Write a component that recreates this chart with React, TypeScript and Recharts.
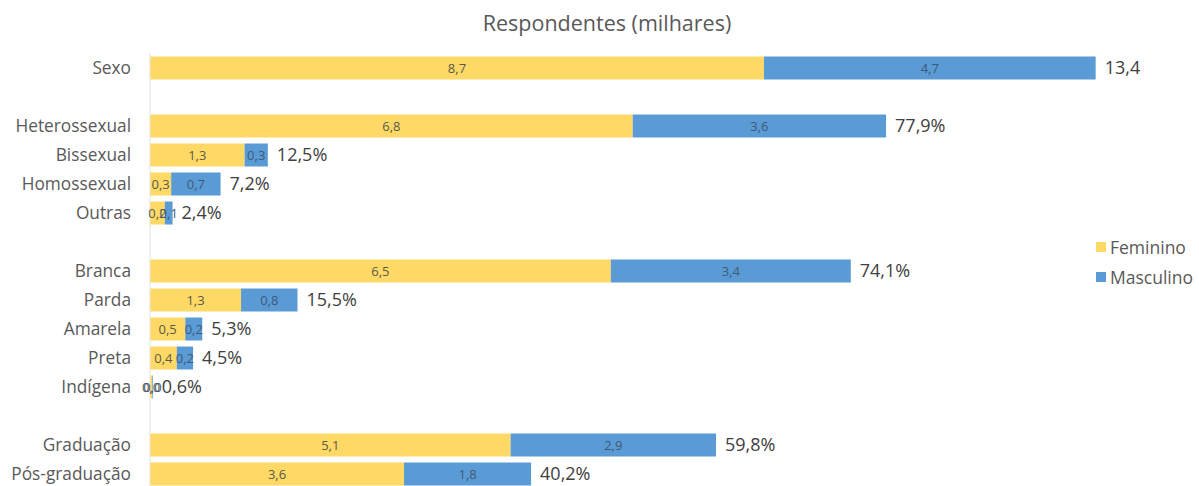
import React from 'react';
import { BarChart, Bar, XAxis, YAxis, Legend, LabelList } from 'recharts';

// rows, top to bottom ('' = spacer row between groups)
const categories = [
  'Sexo', '',
  'Heterossexual', 'Bissexual', 'Homossexual', 'Outras', '',
  'Branca', 'Parda', 'Amarela', 'Preta', 'Indígena', '',
  'Graduação', 'Pós-graduação',
];
const feminino = [8.7, null, 6.84, 1.34, 0.3, 0.21, null, 6.53, 1.29, 0.5, 0.38, 0.03, null, 5.11, 3.6];
const masculino = [4.7, null, 3.59, 0.33, 0.7, 0.11, null, 3.4, 0.8, 0.24, 0.23, 0.01, null, 2.91, 1.8];
const totalLabels = ['13,4', '', '77,9%', '12,5%', '7,2%', '2,4%', '', '74,1%', '15,5%', '5,3%', '4,5%', '0,6%', '', '59,8%', '40,2%'];

const YELLOW = '#FFD966';
const BLUE = '#5B9BD5';
const FONT = '"Open Sans", sans-serif';

const data = categories.map((name, i) => ({
  key: `r${i}`,
  name,
  feminino: feminino[i],
  masculino: masculino[i],
  total: totalLabels[i],
}));

const fmt = (v: any) => (v == null ? '' : Number(v).toFixed(1).replace('.', ','));

function LegendBox({ payload }: any) {
  return (
    <div style={{ fontFamily: FONT }}>
      {(payload || []).map((p: any) => (
        <div key={p.value} style={{ display: 'flex', alignItems: 'center', height: 30, whiteSpace: 'nowrap' }}>
          <span style={{ width: 10, height: 10, background: p.color, marginRight: 4, display: 'inline-block' }} />
          <span style={{ fontSize: 17.5, color: '#595959' }}>{p.value}</span>
        </div>
      ))}
    </div>
  );
}

export default function App() {
  return (
    <div style={{ position: 'absolute', left: 0, top: 0, width: 1199, height: 486, overflow: 'hidden', background: '#fff' }}>
      <div
        style={{
          position: 'absolute', left: 0, top: 8, width: 1214, textAlign: 'center',
          fontFamily: FONT, fontSize: 21.5, color: '#595959',
        }}
      >
        Respondentes (milhares)
      </div>
      <BarChart
        layout="vertical"
        width={1199}
        height={492}
        data={data}
        barCategoryGap={3}
        margin={{ top: 53.5, right: 61, bottom: 3.5, left: 0 }}
      >
        <XAxis type="number" domain={[0, 14]} hide />
        <YAxis
          type="category"
          dataKey="key"
          width={150}
          tickLine={false}
          tickMargin={13}
          axisLine={{ stroke: '#e3e3e3' }}
          tickFormatter={(_v: any, i: number) => categories[i]}
          tick={{ fontSize: 17.3, fill: '#595959', fontFamily: FONT }}
          interval={0}
        />
        <Legend
          layout="vertical"
          align="center"
          verticalAlign="middle"
          wrapperStyle={{ left: 1096, top: 232, width: 110 }}
          content={LegendBox}
        />
        <Bar dataKey="feminino" name="Feminino" stackId="a" fill={YELLOW} isAnimationActive={false}>
          <LabelList dataKey="feminino" position="center" formatter={fmt} style={{ fontSize: 13, fill: '#5a5a4a', fontFamily: FONT }} />
        </Bar>
        <Bar dataKey="masculino" name="Masculino" stackId="a" fill={BLUE} isAnimationActive={false}>
          <LabelList dataKey="masculino" position="center" formatter={fmt} style={{ fontSize: 13, fill: '#3d5a78', fontFamily: FONT }} />
          <LabelList dataKey="total" position="right" offset={9} style={{ fontSize: 18, fill: '#404040', fontFamily: FONT }} />
        </Bar>
      </BarChart>
    </div>
  );
}
